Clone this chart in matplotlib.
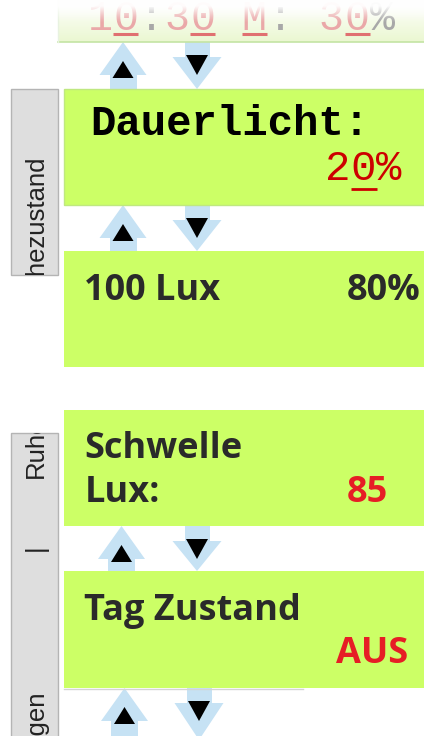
import numpy as np
import matplotlib
matplotlib.use("Agg")
import matplotlib.pyplot as plt
from matplotlib.patches import Rectangle, Polygon

# ---- content ----
top_chars = list("10:30 M: 30%")
top_underlined = [1, 4, 6, 10]
dauer_label = "Dauerlicht:"
dauer_value = "20%"
lux_label = "100 Lux"
lux_value = "80%"
schwelle_lines = ["Schwelle", "Lux:"]
schwelle_value = "85"
tag_label = "Tag Zustand"
tag_value = "AUS"
tab_texts = ["Ruhezustand", "Ruhezustand", "|", "Einstellungen"]

GREEN = "#ccff66"
BLUE = "#c6e2f4"
DARK = "#2a2a2a"
RED_MONO = "#cc0000"
RED = "#e61e25"

fig = plt.figure(figsize=(4.24, 7.36), dpi=100)
ax = fig.add_axes([0, 0, 1, 1])

# ---- arrows ----
def up_arrow(cx, top, bottom):
    ax.add_patch(Polygon([(cx - 23.5, top + 33), (cx, top), (cx + 23.5, top + 33)],
                         closed=True, fc=BLUE, ec="none", zorder=1))
    ax.add_patch(Rectangle((cx - 13.5, top + 32), 27, bottom - top - 32,
                           fc=BLUE, ec="none", zorder=1))
    ax.add_patch(Polygon([(cx - 10.5, top + 36), (cx, top + 19), (cx + 10.5, top + 36)],
                         closed=True, fc="black", ec="none", zorder=2))

def down_arrow(cx, top, bottom):
    ax.add_patch(Rectangle((cx - 12.5, top), 25, 16, fc=BLUE, ec="none", zorder=1))
    ax.add_patch(Polygon([(cx - 24.5, top + 15), (cx + 24.5, top + 15), (cx, bottom)],
                         closed=True, fc=BLUE, ec="none", zorder=1))
    ax.add_patch(Polygon([(cx - 11, top + 13), (cx + 11, top + 13), (cx, top + 33)],
                         closed=True, fc="black", ec="none", zorder=2))

for (ucx, dcx, top, bottom) in [(123, 197, 42, 89), (123, 197, 205, 251),
                                (121.5, 197, 526, 571), (124.5, 199, 688, 740)]:
    up_arrow(ucx, top, min(bottom, 736))
    down_arrow(dcx, top, bottom)

# ---- top faded panel ----
grad = np.linspace(0, 1, 64)[:, None]
c0 = np.array([1.0, 1.0, 1.0])
c1 = np.array([0.92, 0.97, 0.82])
img = c0[None, None, :] * (1 - grad[..., None]) + c1[None, None, :] * grad[..., None]
img = np.repeat(img, 2, axis=1)
ax.imshow(img, extent=[58, 424, 42, 0], aspect="auto", zorder=3, interpolation="bilinear")
ax.plot([58, 424], [42, 42], color="#c4e4a4", lw=1.2, zorder=4)
ax.plot([58, 58], [0, 42], color="#e8f2e0", lw=1.0, zorder=4)
pitch = 25.7
for i, ch in enumerate(top_chars):
    cx = 100 + i * pitch
    col = "#a8a8a8" if ch in ":%" else "#eaa8a8"
    ax.text(cx, 30, ch, family="Liberation Mono", fontsize=30, color=col,
            ha="center", va="baseline", zorder=5)
    if i in top_underlined:
        ax.plot([cx - 12.5, cx + 12.5], [33.5, 33.5], color="#e07070", lw=2.2,
                solid_capstyle="butt", zorder=5)
# fade the top of the glyphs
fade = np.zeros((64, 2, 4))
fade[..., :3] = 1.0
fade[..., 3] = np.clip(1.35 - 1.35 * np.linspace(0, 1, 64), 0, 1)[:, None] ** 1.3 * 0.97
ax.imshow(fade, extent=[40, 424, 23, 0], aspect="auto", zorder=6, interpolation="bilinear")

ax.set_xlim(0, 424)
ax.set_ylim(736, 0)
ax.axis("off")

# ---- side tabs ----
tab1 = Rectangle((11, 89), 47, 186, fc="#dedede", ec="#b4b4b4", lw=1.0, zorder=3)
tab2 = Rectangle((11, 433), 47, 310, fc="#dedede", ec="#b4b4b4", lw=1.0, zorder=3)
ax.add_patch(tab1)
ax.add_patch(tab2)
tab_kw = dict(family="Liberation Sans", fontsize=18.5, color="#222222", rotation=90,
              rotation_mode="anchor", va="baseline", zorder=4, clip_on=True)
t = ax.text(43, 155, tab_texts[0], ha="right", **tab_kw)
t.set_clip_path(tab1)
t = ax.text(43, 478, tab_texts[1], ha="left", **tab_kw)
t.set_clip_path(tab2)
t = ax.text(43, 548, tab_texts[2], ha="center", **tab_kw)
t.set_clip_path(tab2)
t = ax.text(43, 690, tab_texts[3], ha="right", **tab_kw)
t.set_clip_path(tab2)

# ---- green panels ----
ax.add_patch(Rectangle((64, 89), 370, 116, fc=GREEN, ec="#bfe880", lw=1.0, zorder=3))
ax.add_patch(Rectangle((64, 251), 370, 116, fc=GREEN, ec="none", zorder=3))
ax.add_patch(Rectangle((64, 410), 370, 116, fc=GREEN, ec="none", zorder=3))
ax.add_patch(Rectangle((64, 571), 370, 117, fc=GREEN, ec="none", zorder=3))
ax.plot([64, 303], [688.5, 688.5], color="#d4d4d4", lw=1.0, zorder=3)

# Dauerlicht panel (monospace)
ax.text(90, 135, dauer_label, family="Liberation Mono", fontweight="bold", fontsize=30.5,
        color="black", ha="left", va="baseline", zorder=5)
for i, ch in enumerate(dauer_value):
    cx = 338 + i * 25.2
    ax.text(cx, 180, ch, family="Liberation Mono", fontsize=30.5, color=RED_MONO,
            ha="center", va="baseline", zorder=5)
ax.plot([350.5, 377], [189, 189], color=RED_MONO, lw=2.0, solid_capstyle="butt", zorder=5)

sans = dict(family="Open Sans", fontweight="bold", fontsize=26, va="baseline", zorder=5)
ax.text(84, 300, lux_label, color=DARK, ha="left", **sans)
ax.text(420, 300, lux_value, color=DARK, ha="right", **sans)
ax.text(84, 458, schwelle_lines[0], color=DARK, ha="left", **sans)
ax.text(85, 502, schwelle_lines[1], color=DARK, ha="left", **sans)
ax.text(388, 502, schwelle_value, color=RED, ha="right", **sans)
ax.text(84, 620, tag_label, color=DARK, ha="left", **sans)
ax.text(408, 663, tag_value, color=RED, ha="right", **sans)

fig.savefig("out.png", dpi=100)
